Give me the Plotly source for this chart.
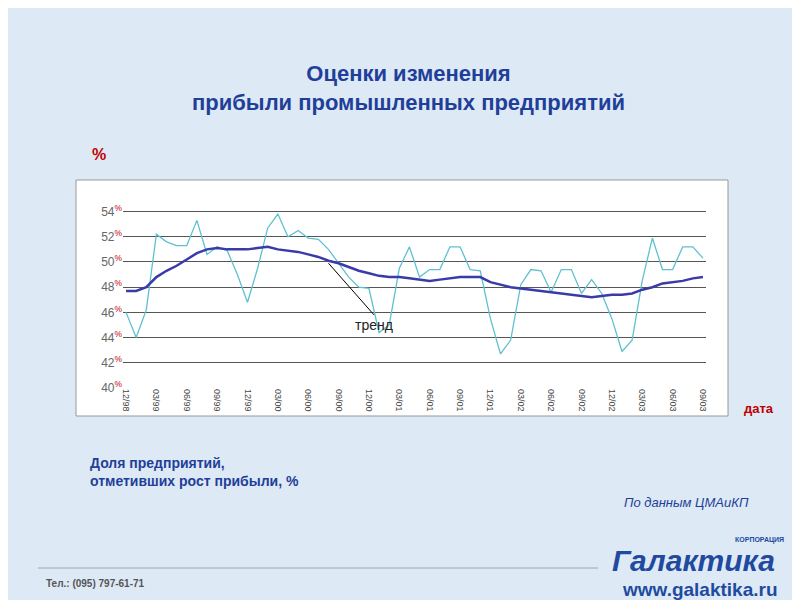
import plotly.graph_objects as go

# monthly data, 12/98 .. 09/03
months = ['12/98'] + [f'{m:02d}/{y:02d}' for y in [99, 0, 1, 2, 3] for m in range(1, 13)]
months = months[:58]
share = [46.0, 44.0, 46.2, 52.2, 51.6, 51.3, 51.3, 53.3, 50.6, 51.2, 50.9, 49.0,
         46.8, 49.5, 52.7, 53.8, 52.0, 52.5, 51.9, 51.8, 51.0, 49.9, 48.8, 48.0,
         47.9, 44.4, 45.0, 49.5, 51.2, 48.8, 49.4, 49.4, 51.2, 51.2, 49.4, 49.3,
         45.5, 42.7, 43.8, 48.2, 49.4, 49.3, 47.6, 49.4, 49.4, 47.5, 48.6, 47.5,
         45.5, 42.9, 43.8, 48.5, 51.9, 49.4, 49.4, 51.2, 51.2, 50.3]
trend = [47.7, 47.7, 48.0, 48.8, 49.3, 49.7, 50.2, 50.7, 51.0, 51.1, 51.0, 51.0,
         51.0, 51.1, 51.2, 51.0, 50.9, 50.8, 50.6, 50.4, 50.1, 49.9, 49.6, 49.3,
         49.1, 48.9, 48.8, 48.8, 48.7, 48.6, 48.5, 48.6, 48.7, 48.8, 48.8, 48.8,
         48.4, 48.2, 48.0, 47.9, 47.8, 47.7, 47.6, 47.5, 47.4, 47.3, 47.2, 47.3,
         47.4, 47.4, 47.5, 47.8, 48.0, 48.3, 48.4, 48.5, 48.7, 48.8]
tick_months = months[::3]
y_ticks = [40, 42, 44, 46, 48, 50, 52, 54]

x = list(range(len(months)))
BLUE = '#1f3f99'

# plot area in page pixels
L, R, T, B = 115, 698, 196, 380


def px(xp):
    return (xp - L) / (R - L)


def py(yp):
    return (B - yp) / (B - T)


fig = go.Figure()
fig.add_trace(go.Scatter(x=x, y=share, mode='lines', line=dict(color='#5fc0d0', width=1.3)))
fig.add_trace(go.Scatter(x=x, y=trend, mode='lines', line=dict(color='#3a3aa8', width=2.5)))

fig.add_shape(type='rect', xref='paper', yref='paper', x0=px(68), x1=px(720), y0=py(408), y1=py(172),
              fillcolor='white', line=dict(color='#999', width=1), layer='below')
fig.add_shape(type='line', xref='paper', yref='paper', x0=px(30), x1=px(590), y0=py(560), y1=py(560),
              line=dict(color='#9aa', width=1))

fig.add_annotation(x=20, y=49.9, ax=24.5, ay=45.8, axref='x', ayref='y', text='тренд',
                   showarrow=True, arrowhead=0, arrowwidth=1, arrowcolor='black',
                   font=dict(size=14, color='#222'), yanchor='top')

texts = [
    ('<b>Оценки изменения<br>прибыли промышленных предприятий</b>', 400, 80, 22, BLUE, 'center'),
    ('<b>%</b>', 82, 146, 16, '#c00000', 'left'),
    ('<b>дата</b>', 734, 400, 13, '#c00000', 'left'),
    ('<b>Доля предприятий,<br>отметивших рост прибыли, %</b>', 80, 464, 14, BLUE, 'left'),
    ('<i>По данным ЦМАиКП</i>', 614, 494, 13, BLUE, 'left'),
    ('<b>Тел.: (095) 797-61-71</b>', 36, 575, 10, '#555', 'left'),
    ('<b><i>Галактика</i></b>', 602, 552, 30, '#1f4aa0', 'left'),
    ('<b>www.galaktika.ru</b>', 612, 581, 19, '#1f4aa0', 'left'),
    ('<b>КОРПОРАЦИЯ</b>', 725, 532, 7, '#1f4aa0', 'left'),
]
for t, xp, yp, sz, col, al in texts:
    fig.add_annotation(x=px(xp), y=py(yp), xref='paper', yref='paper', text=t,
                       showarrow=False, font=dict(size=sz, color=col), align=al,
                       xanchor=al, yanchor='middle')

fig.update_layout(
    width=800, height=600,
    paper_bgcolor='#dde9f5', plot_bgcolor='rgba(0,0,0,0)',
    margin=dict(l=L, r=800 - R, t=T, b=600 - B),
    showlegend=False,
    font=dict(family='Arial'),
    xaxis=dict(range=[-0.3, 57.3], tickvals=x[::3], ticktext=tick_months, tickangle=90,
               showgrid=False, zeroline=False, tickfont=dict(size=9, color='#444')),
    yaxis=dict(range=[40, 54.6], tickvals=y_ticks,
               ticktext=[f'{v}<sup><span style="color:#c00000">%</span></sup>' for v in y_ticks],
               gridcolor='#555', gridwidth=1, zeroline=False, tickfont=dict(size=12, color='#666')),
)
fig.write_html('out.html')
